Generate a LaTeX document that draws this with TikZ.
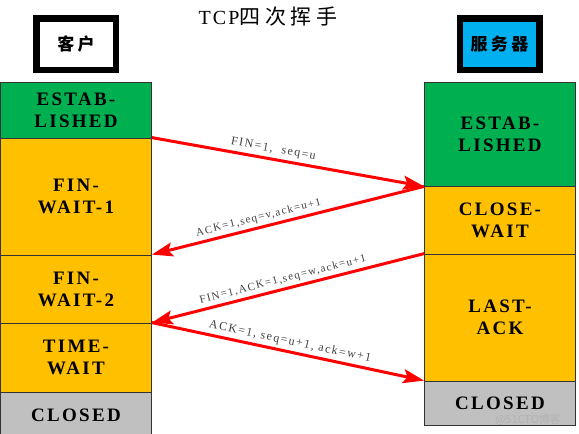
\documentclass[tikz,border=0pt]{standalone}
\usepackage{fontspec}
\setmainfont{Liberation Serif}
\newfontfamily\statefam[LetterSpace=12]{Liberation Serif}
\newfontfamily\msgfam[LetterSpace=12]{Liberation Serif}
\newfontfamily\titlefam[LetterSpace=10]{Liberation Serif}
\newfontfamily\cjktitle[LetterSpace=22]{Noto Sans CJK SC}
\newfontfamily\cjkwide[LetterSpace=20]{Noto Sans CJK SC}
\newfontfamily\cjk{Noto Sans CJK SC}
\usetikzlibrary{arrows.meta}

\definecolor{estgreen}{HTML}{00B050}
\definecolor{waitorange}{HTML}{FFC000}
\definecolor{closedgray}{HTML}{C0C0C0}
\definecolor{hostcyan}{HTML}{00B0F0}

\newcommand\statefont{\statefam\bfseries\fontsize{19}{22}\selectfont}

\begin{document}
\begin{tikzpicture}[x=1pt,y=-1pt,
    state/.style={draw=black!80, line width=0.8pt, minimum width=151pt,
        align=center, inner sep=0pt, font=\statefont},
    estab/.style={state, fill=estgreen},
    wait/.style={state, fill=waitorange},
    closed/.style={state, fill=closedgray},
    host/.style={draw=black, line width=6.5pt, minimum width=79.5pt,
        minimum height=51.5pt, inner sep=0pt,
        font=\cjkwide\bfseries\fontsize{17}{19}\selectfont},
    msg/.style={draw=red, line width=3pt,
        -{Stealth[length=21pt,width=14pt,inset=4pt]}},
    msglabel/.style={sloped, above, inner sep=3pt, text=black!75,
        font=\msgfam\fontsize{12}{14}\selectfont},
    smalllabel/.style={msglabel, font=\msgfam\fontsize{11}{13}\selectfont}]

    \useasboundingbox (0,0) rectangle (579,434);

    % title and the two hosts
    \node (title) at (268,17) {\titlefam\fontsize{20}{22}\selectfont TCP\cjktitle\fontsize{21}{22}\selectfont 四次挥手};
    \node[host, fill=white] (client) at (76,44) {客户};
    \node[host, fill=hostcyan] (server) at (499.5,44) {服务器};

    % client states
    \node[estab, minimum height=56pt] (lest) at (76,110) {ESTAB-\\LISHED};
    \node[wait, minimum height=117pt] (lfw1) at (76,196.5) {FIN-\\WAIT-1};
    \node[wait, minimum height=68pt] (lfw2) at (76,289) {FIN-\\WAIT-2};
    \node[wait, minimum height=69pt] (ltw) at (76,357.5) {TIME-\\WAIT};
    \node[closed, minimum height=46pt] (lcl) at (76,415) {CLOSED};

    % server states
    \node[estab, minimum height=104pt] (rest) at (500,134) {ESTAB-\\LISHED};
    \node[wait, minimum height=68pt] (rcw) at (500,220) {CLOSE-\\WAIT};
    \node[wait, minimum height=127pt] (rla) at (500,317.5) {LAST-\\ACK};
    \node[closed, minimum height=44pt] (rcl) at (500,403) {CLOSED};

    % messages
    \draw[msg] (lfw1.north east) -- node[msglabel, pos=0.44] {FIN=1,~~seq=u} (rest.south west);
    \draw[msg] (rest.south west) -- node[smalllabel, pos=0.6] {ACK=1,seq=v,ack=u+1} (lfw2.north east);
    \draw[msg] (rla.north west) -- node[smalllabel, pos=0.51] {FIN=1,ACK=1,seq=w,ack=u+1} (ltw.north east);
    \draw[msg] (ltw.north east) -- node[msglabel, pos=0.5] {ACK=1, seq=u+1, ack=w+1} (rcl.north west);

    \node[text=black!30, font=\cjk\fontsize{11}{12}\selectfont, inner sep=1pt] (wm) at (528,420) {@51CTO博客};
\end{tikzpicture}
\end{document}
